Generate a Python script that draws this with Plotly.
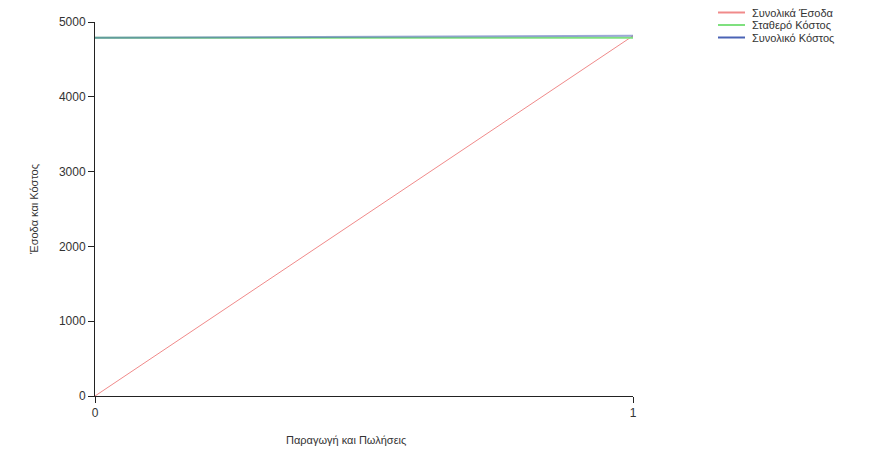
import plotly.graph_objects as go

x_vals = [0, 1]
revenue = [0, 4815]
fixed_cost = [4790, 4790]
total_cost = [4790, 4815]
y_ticks = [0, 1000, 2000, 3000, 4000, 5000]
series_names = ["Συνολικά Έσοδα", "Σταθερό Κόστος", "Συνολικό Κόστος"]
series_colors = ["#f08a8a", "#7fe07f", "#4a63b5"]
x_title = "Παραγωγή και Πωλήσεις"
y_title = "Έσοδα και Κόστος"

fig = go.Figure()
fig.add_trace(go.Scatter(x=x_vals, y=revenue, mode="lines", name=series_names[0],
                         line=dict(color=series_colors[0], width=1), cliponaxis=False))
fig.add_trace(go.Scatter(x=x_vals, y=fixed_cost, mode="lines", name=series_names[1],
                         line=dict(color=series_colors[1], width=2), cliponaxis=False))
fig.add_trace(go.Scatter(x=x_vals, y=total_cost, mode="lines", name=series_names[2],
                         line=dict(color=series_colors[2], width=2), opacity=0.55, cliponaxis=False))

# manual compact legend (paper coordinates)
L, R, T, B = 95, 241, 22, 54
W, H = 874 - L - R, 450 - T - B
def px(xp):
    return (xp - L) / W
def py(yp):
    return (450 - B - yp) / H

rows = [12.5, 25, 37.5]
for name, color, yr in zip(series_names, series_colors, rows):
    fig.add_shape(type="line", xref="paper", yref="paper",
                  x0=px(718), x1=px(745), y0=py(yr), y1=py(yr),
                  line=dict(color=color, width=2))
    fig.add_annotation(xref="paper", yref="paper", x=px(750), y=py(yr),
                       xanchor="left", yanchor="middle", text=name, showarrow=False,
                       font=dict(size=11, color="#333"))

fig.add_annotation(xref="paper", yref="paper", x=px(346), y=py(440),
                   xanchor="center", yanchor="middle", text=x_title, showarrow=False,
                   font=dict(size=11, color="#333"))

font_family = "Liberation Sans, Arial, sans-serif"
fig.update_layout(
    width=874, height=450,
    margin=dict(l=L, r=R, t=T, b=B),
    paper_bgcolor="white", plot_bgcolor="white",
    font=dict(family=font_family, size=12, color="#333"),
    showlegend=False,
    xaxis=dict(range=[0, 1], tickvals=[0, 1], ticktext=["0", "1"], automargin=False,
               showgrid=False, zeroline=False, showline=True, linecolor="#222", linewidth=1,
               ticks="outside", ticklen=6, tickcolor="#222"),
    yaxis=dict(range=[0, 5000], tickvals=y_ticks, automargin=False,
               showgrid=False, zeroline=False, showline=True, linecolor="#222", linewidth=1,
               ticks="outside", ticklen=6, tickcolor="#222",
               title=dict(text=y_title, font=dict(size=11), standoff=18)),
)

fig.write_html("out.html", config={"displayModeBar": False},
               post_script="document.body.style.margin='0';document.body.style.overflow='hidden';")
